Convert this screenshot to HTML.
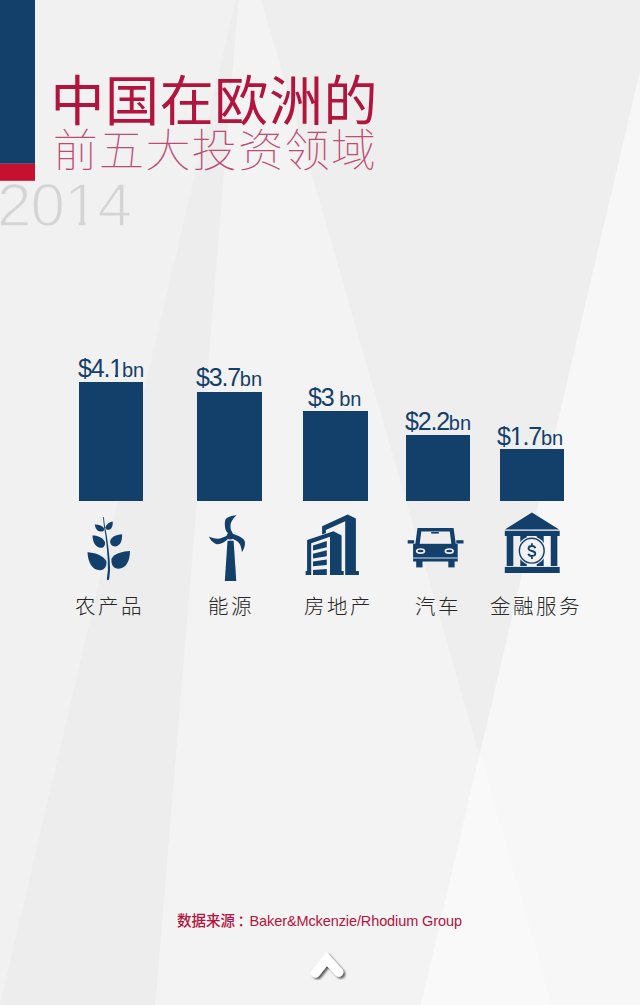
<!DOCTYPE html>
<html><head><meta charset="utf-8">
<style>
html,body{margin:0;padding:0;}
body{width:640px;height:1005px;position:relative;overflow:hidden;background:#eeeeee;font-family:"Liberation Sans","Noto Sans CJK SC",sans-serif;}
.abs{position:absolute;}
svg{position:absolute;left:0;top:0;}
.t1{left:50.5px;top:58px;font:400 54px/80px "Noto Sans CJK SC",sans-serif;color:#b3143d;white-space:nowrap;letter-spacing:0.6px;}
.t2{left:52.7px;top:118.3px;font:100 45px/60px "Noto Sans CJK SC",sans-serif;color:#bf4a74;white-space:nowrap;letter-spacing:1.37px;}
.yr{left:-3px;top:170px;font:62px/70px "Liberation Sans",sans-serif;color:#d4d4d4;white-space:nowrap;-webkit-text-stroke:1.6px #f1f1f1;letter-spacing:-1px;}
.yr span{display:inline-block;clip-path:polygon(0 0,100% 0,100% 73%,64% 73%,64% 100%,44% 100%,44% 73%,0 73%);}
.bar{position:absolute;background:#133f6b;top:auto;}
.lab{position:absolute;color:#133f6b;font:25px/30px "Liberation Sans",sans-serif;letter-spacing:-1.2px;white-space:nowrap;}
.one{display:inline-block;letter-spacing:0;margin-right:-1.2px;clip-path:polygon(0 0,100% 0,100% 72%,64% 72%,64% 100%,42% 100%,42% 72%,0 72%);}
.lab small{font-size:20px;letter-spacing:0;}
.cat{position:absolute;top:590px;font:300 20.5px/30px "Noto Sans CJK SC",sans-serif;color:#262626;letter-spacing:2.5px;white-space:nowrap;}
.src{left:177px;top:908px;font:14.5px/24px "Liberation Sans","Noto Sans CJK SC",sans-serif;color:#b31440;white-space:nowrap;letter-spacing:-0.1px;}
.src b{font-weight:500;font-family:"Noto Sans CJK SC",sans-serif;letter-spacing:0;}
</style></head>
<body>
<svg width="640" height="1005" viewBox="0 0 640 1005">
  <polygon points="0,0 236,0 0.1,1005 0,1005" fill="#f1f1f1"/>
  <polygon points="236,0 238.4,0 155.3,1005 0.1,1005" fill="#ededed"/>
  <polygon points="238.4,0 261.3,0 551.7,1005 155.3,1005" fill="#f3f3f3"/>
  <polygon points="640,71 640,1005 421,1005" fill="#f7f7f7"/>
  <polygon points="480,752 551.7,1005 421,1005" fill="#f9f9f9"/>
  <rect x="0" y="0" width="35" height="163.8" fill="#133f6b"/>
  <rect x="0" y="163.8" width="35" height="17" fill="#c5112f"/>
</svg>

<div class="abs t1">中国在欧洲的</div>
<div class="abs t2">前五大投资领域</div>
<div class="abs yr">20<span>1</span>4</div>

<div class="bar" style="left:79px;width:64.2px;top:382px;height:118.6px"></div>
<div class="bar" style="left:197px;width:65px;top:392px;height:108.6px"></div>
<div class="bar" style="left:303px;width:64.5px;top:410.6px;height:90px"></div>
<div class="bar" style="left:406px;width:64px;top:434.5px;height:66.1px"></div>
<div class="bar" style="left:499.75px;width:64px;top:449.25px;height:51.35px"></div>

<div class="lab" style="left:78px;top:353px">$4.<span class="one">1</span><small>bn</small></div>
<div class="lab" style="left:196px;top:362px">$3.7<small>bn</small></div>
<div class="lab" style="left:308px;top:381.5px">$3 <small>bn</small></div>
<div class="lab" style="left:405px;top:405.5px">$2.2<small>bn</small></div>
<div class="lab" style="left:497px;top:421px">$<span class="one">1</span>.7<small>bn</small></div>

<svg width="640" height="1005" viewBox="0 0 640 1005" fill="#133f6b">
  <!-- plant -->
  <path d="M103,517 L104,527 L105.55,536 L107,549.5 L107.75,560 L107.9,570 L106.8,579 Q107.9,581.6 109.2,579 L110.1,570 L109.65,560 L108.6,549.5 L106.85,536 L105,527 L103.8,517 Z"/>
  <path d="M94.8,524.5 C98,524.5 102.5,525.5 104.1,528.4 C104.6,530.8 102.6,531.8 100.4,531.6 C97.3,531.2 95.3,528.5 94.8,524.5 Z"/>
  <path d="M112.7,521.4 C109.5,522 106.2,524 105.5,527.3 C105.5,529.5 107.5,530.3 109.5,529.6 C112,528.5 113,525 112.7,521.4 Z"/>
  <path d="M92.4,535.4 C97,535.5 102.5,537 104.9,541.7 C105.6,545.5 103.5,548 100.6,547.8 C96.2,547.4 92.8,543 92.4,535.4 Z"/>
  <path d="M122.1,534.3 C117.5,534.6 112,536 110.2,540.5 C109.8,544.5 112.3,546.6 115.5,546.4 C120.5,545.8 122.3,540.5 122.1,534.3 Z"/>
  <path d="M87.5,552.25 C94,552.5 103,555 106.3,561 C107.2,566 104.5,570 100,570.2 C92.5,570.3 88,563 87.5,552.25 Z"/>
  <path d="M130,551 C123,551.3 114,553.5 111.5,558.75 C110.8,564.5 113.5,568.8 118.5,568.8 C126,568.5 130,561 130,551 Z"/>
  <!-- wind turbine -->
  <path d="M227.5,540.7 L233.6,540.7 L236.3,580.9 L224.8,580.9 Z"/>
  <circle cx="230.3" cy="536" r="3.5"/>
  <path d="M226.1,531.1 C224.6,527.5 224.5,522 225.4,519.8 C226.5,517.5 231,515.6 236.6,515.3 C234.5,517 232,519.8 230.9,523 C230,526.5 230.5,530 232.4,532.5 L230.3,536 Z"/>
  <path d="M227.5,535.3 C225,536.8 220.5,538.8 217.7,538.8 C214.5,538.8 211,537 208.9,536.4 C209.8,538.8 212.5,542.5 216,544 C219.5,545.2 224,542.5 228.2,538.8 L230.3,536 Z"/>
  <path d="M233.1,533.9 C237,534.8 241.5,537 243.8,539.5 C246,542.5 245,547.5 241.9,552.2 C241.6,549 240.8,545 239,543 C237.5,541.3 235.5,540.2 233.8,539.5 L230.3,536 Z"/>
  <!-- building -->
  <path d="M322.1,526.3 L347.7,514.6 L355.9,518.6 L355.9,571 L358.9,571 L358.9,575 L345.2,575 L345.2,521.3 L325.9,530 L325.9,536 L322.1,536 Z"/>
  <path d="M307.1,540 L333.5,531.2 L341.6,535.4 L341.6,571 L343.7,571 L343.7,575 L330,575 L330,536.8 L311.2,543.2 L311.2,575 L305.6,575 L305.6,571 L307.1,571 Z" stroke="#f2f2f2" stroke-width="1.2" paint-order="stroke"/>
  <path d="M313,545.5 L326.8,541.1 L326.8,547.2 L313,550.5 Z M313,553.75 L326.8,550.2 L326.8,556.3 L313,558.4 Z M313,561.5 L326.8,559.4 L326.8,565 L313,566.2 Z M313,569.9 L326.8,569 L326.8,574.9 L313,574.9 Z"/>
  <!-- car -->
  <path d="M417.5,528.1 L453.6,528.1 L455.8,544 L415.3,544 Z M421.3,531.4 L419.7,544 L451.4,544 L449.8,531.4 Z" fill-rule="evenodd"/>
  <rect x="431.2" y="532" width="7.6" height="1.6"/>
  <rect x="413.1" y="543.8" width="44.6" height="17.7"/>
  <rect x="413.1" y="557.3" width="44.6" height="1.4" fill="#9fb4cb"/>
  <rect x="416.2" y="561" width="6.3" height="6.4"/>
  <rect x="448.3" y="561" width="6.3" height="6.4"/>
  <rect x="407.7" y="540.2" width="6.5" height="3.3"/>
  <rect x="456.3" y="540.2" width="7.2" height="3.3"/>
  <ellipse cx="420.55" cy="551.1" rx="3.9" ry="2.1" fill="none" stroke="#f2f2f2" stroke-width="1.7"/>
  <ellipse cx="449.25" cy="551.1" rx="3.9" ry="2.1" fill="none" stroke="#f2f2f2" stroke-width="1.7"/>
  <!-- bank -->
  <path d="M531.9,512.6 L559.2,529.5 L504.9,529.5 Z"/>
  <rect x="504.8" y="530.8" width="54.9" height="5.2"/>
  <rect x="506.7" y="535.5" width="6.6" height="30.5"/>
  <rect x="520.3" y="535.5" width="6.5" height="30.5"/>
  <rect x="536.7" y="535.5" width="7" height="30.5"/>
  <rect x="550.75" y="535.5" width="6.6" height="30.5"/>
  <rect x="504.8" y="566.9" width="54.9" height="6.1"/>
  <circle cx="531.75" cy="550.7" r="14.3" fill="#f2f2f2"/>
  <circle cx="531.75" cy="550.7" r="12.4" fill="none" stroke="#133f6b" stroke-width="1.45"/>
  <path d="M535.3,548.2 C535,546.8 533.6,546 531.9,546 C529.9,546 528.5,547.1 528.5,548.5 C528.5,550.2 530.2,550.6 531.9,551 C533.7,551.4 535.3,552 535.3,553.6 C535.3,555 533.8,556 531.9,556 C530.1,556 528.6,555.2 528.3,553.8 M531.9,543.3 V546 M531.9,556 V558.9" fill="none" stroke="#133f6b" stroke-width="1.8"/>
</svg>

<div class="cat" style="left:75px">农产品</div>
<div class="cat" style="left:208px">能源</div>
<div class="cat" style="left:304px">房地产</div>
<div class="cat" style="left:415px">汽车</div>
<div class="cat" style="left:490px">金融服务</div>

<div class="abs src"><b>数据来源<span style="position:relative;left:2.5px">：</span></b>Baker&amp;Mckenzie/Rhodium Group</div>

<svg width="640" height="1005" viewBox="0 0 640 1005">
  <defs><filter id="sh" x="-50%" y="-50%" width="200%" height="200%"><feDropShadow dx="2" dy="1.8" stdDeviation="1.2" flood-color="#000" flood-opacity="0.65"/></filter></defs>
  <polyline points="315.6,973 326.8,959 338.8,972.2" fill="none" stroke="#ffffff" stroke-width="9" stroke-linecap="round" stroke-linejoin="miter" filter="url(#sh)"/>
</svg>
</body></html>
